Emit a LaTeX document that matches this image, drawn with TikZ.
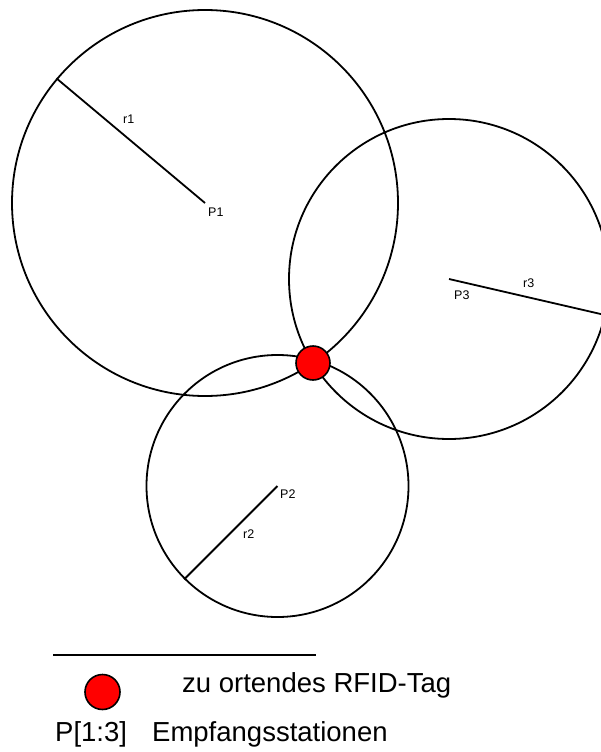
\documentclass[tikz,border=0pt]{standalone}
\usepackage{fontspec}
\setmainfont{Liberation Sans}
\usetikzlibrary{calc}

\begin{document}
\begin{tikzpicture}[
    x=1pt, y=-1pt,
    station/.style={circle, draw, line width=1.8pt, inner sep=0pt},
    tag/.style={circle, draw, line width=1.6pt, fill=red, inner sep=0pt, minimum size=34pt},
    radius/.style={line width=1.8pt},
    label/.style={inner sep=0pt, anchor=base west, font=\fontsize{12.5}{14}\selectfont},
    legend/.style={inner sep=0pt, anchor=base west, font=\fontsize{27.5}{32}\selectfont}
]
\useasboundingbox (0,0) rectangle (601,752);
\clip (0,0) rectangle (601,752);

% Circles
\node (c1) [station, minimum size=386pt] at (205,203) {};
\node (c2) [station, minimum size=262pt] at (277.5,486) {};
\node (c3) [station, minimum size=320pt] at (449,279) {};

% Radii
\draw [radius] (c1.center) -- (c1.140);
\draw [radius] (c2.center) -- (c2.225);
\draw [radius] (c3.center) -- (c3.-13.3);

% Labels
\node (p1) [label] at (208,216) {P1};
\node (p2) [label] at (280,498) {P2};
\node (p3) [label] at (454,299) {P3};
\node (r1) [label] at (123,123) {r1};
\node (r2) [label] at (243,538) {r2};
\node (r3) [label] at (523,287) {r3};

% Tag
\node (rfid) [tag] at (313,363) {};

% Legend
\coordinate (legl) at (53,655);
\coordinate (legr) at (316,655);
\draw [radius] (legl) -- (legr);
\node (legtag) [tag, minimum size=35pt] at (102.5,692) {};
\node (legtagtxt) [legend] at (182,692) {zu ortendes RFID-Tag};
\node (legp) [legend] at (55,741) {P[1:3]};
\node (legptxt) [legend] at (152,741) {Empfangsstationen};

\end{tikzpicture}
\end{document}
